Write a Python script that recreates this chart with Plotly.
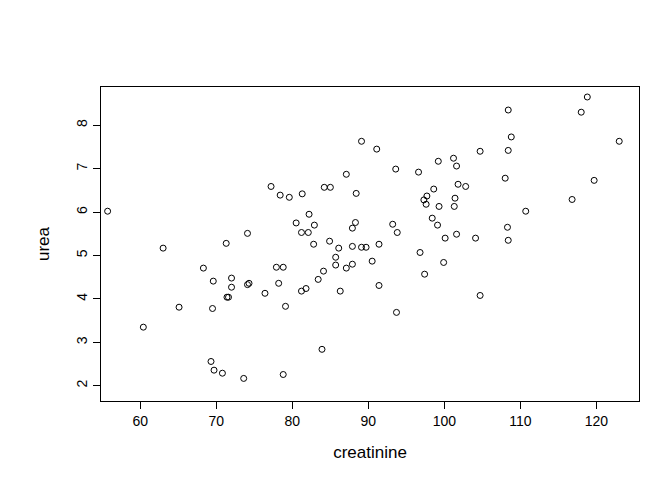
import plotly.graph_objects as go

# creatinine / urea values
creatinine = [55.7, 89.1, 87.1, 77.2, 78.4, 79.6, 81.3, 84.2, 85.0, 88.4,
              82.2, 80.5, 82.9, 88.3, 87.9, 81.2, 82.1, 74.1, 71.3, 63.0,
              82.8, 84.9, 86.1, 87.9, 89.1, 89.7, 85.7, 85.7, 87.1, 87.9,
              68.3, 77.9, 78.8, 84.1, 83.4, 69.6, 72.0, 72.0, 74.1, 74.3,
              78.2, 81.2, 81.8, 76.4, 71.4, 71.6, 86.3, 65.1, 69.5, 79.1,
              60.4, 83.9, 69.3, 69.7, 70.8, 73.6, 78.8,
              118.8, 118.0, 108.4, 108.8, 108.4, 123.0, 91.1, 104.7, 99.2, 101.2,
              101.6, 93.6, 96.6, 108.0, 119.7, 101.8, 102.8, 98.6, 97.7, 97.3,
              97.6, 99.3, 101.4, 101.3, 116.8, 110.7, 93.2, 93.8, 98.4, 99.1,
              100.1, 101.6, 104.1, 108.3, 108.4, 91.4, 90.5, 96.8, 99.9, 97.4,
              91.4, 104.7, 93.7]
urea = [6.02, 7.63, 6.87, 6.59, 6.39, 6.34, 6.42, 6.57, 6.57, 6.43,
        5.95, 5.75, 5.70, 5.76, 5.63, 5.53, 5.53, 5.51, 5.28, 5.17,
        5.26, 5.33, 5.17, 5.21, 5.19, 5.19, 4.96, 4.78, 4.71, 4.80,
        4.71, 4.73, 4.73, 4.64, 4.45, 4.41, 4.48, 4.27, 4.33, 4.36,
        4.36, 4.18, 4.24, 4.13, 4.04, 4.04, 4.18, 3.81, 3.78, 3.83,
        3.35, 2.84, 2.56, 2.36, 2.29, 2.17, 2.26,
        8.65, 8.30, 8.35, 7.73, 7.42, 7.63, 7.45, 7.40, 7.17, 7.24,
        7.06, 6.99, 6.92, 6.78, 6.73, 6.64, 6.59, 6.53, 6.37, 6.28,
        6.18, 6.13, 6.32, 6.13, 6.29, 6.02, 5.72, 5.53, 5.86, 5.70,
        5.40, 5.49, 5.40, 5.65, 5.35, 5.26, 4.87, 5.07, 4.84, 4.57,
        4.31, 4.08, 3.69]

fig = go.Figure(go.Scatter(
    x=creatinine, y=urea, mode="markers",
    marker=dict(symbol="circle-open", size=6, color="black", line=dict(width=1))
))

axis = dict(showgrid=False, zeroline=False, showline=True, mirror=True,
            linecolor="black", linewidth=1, ticks="outside", ticklen=7,
            tickcolor="black", tickfont=dict(size=14, color="black"),
            automargin=False)

fig.update_layout(
    width=672, height=480,
    margin=dict(l=93, r=41, t=79, b=87),
    paper_bgcolor="white", plot_bgcolor="white",
    font=dict(family="Liberation Sans, Arial", size=14, color="black"),
    showlegend=False,
    xaxis=dict(axis, range=[54.83, 125.6], tickvals=[60, 70, 80, 90, 100, 110, 120],
               title=dict(text="creatinine", standoff=18)),
    yaxis=dict(axis, range=[1.65, 8.88], tickvals=[2, 3, 4, 5, 6, 7, 8],
               tickangle=-90, title=dict(text="urea", standoff=20)),
)

fig.write_html("out.html")
